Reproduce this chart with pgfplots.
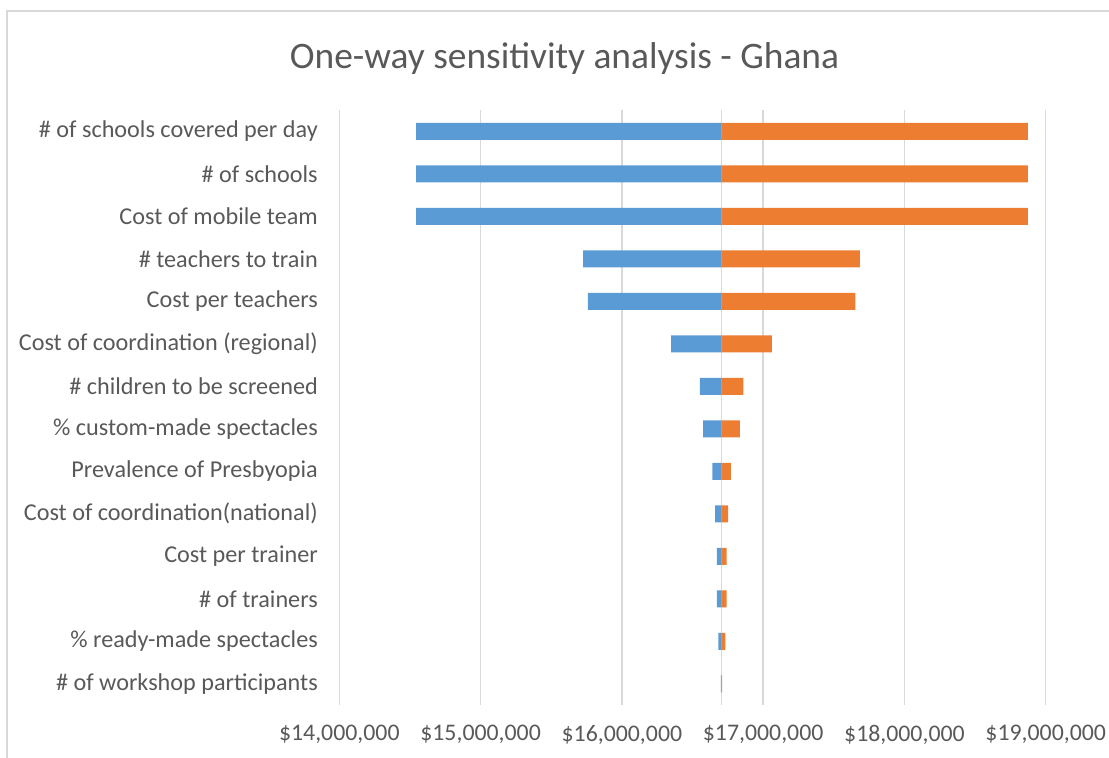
\documentclass[border=0pt]{standalone}
\usepackage{fontspec}
\setmainfont{Carlito}
\usepackage{pgfplots}
\pgfplotsset{compat=1.18}
\usepackage{pgfplotstable}

\definecolor{xlblue}{HTML}{5B9BD5}
\definecolor{xlorange}{HTML}{ED7D31}
\definecolor{xltext}{HTML}{595959}
\definecolor{xlgrid}{HTML}{D9D9D9}

% values in millions of dollars, rows top to bottom
\pgfplotstableread{
pos base   low    high
0   16.705 14.543 18.873
1   16.705 14.543 18.873
2   16.705 14.543 18.873
3   16.705 15.725 17.684
4   16.705 15.760 17.652
5   16.705 16.348 17.061
6   16.705 16.553 16.860
7   16.705 16.576 16.836
8   16.705 16.640 16.772
9   16.705 16.661 16.753
10  16.705 16.673 16.742
11  16.705 16.673 16.742
12  16.705 16.683 16.732
13  16.705 16.701 16.709
}\sens

\begin{document}
\begin{tikzpicture}
\begin{axis}[
    at={(339.3pt,-705pt)}, anchor=south west,
    width=706.4pt, height=595pt, scale only axis,
    xmin=14, xmax=19, ymin=-0.5, ymax=13.5, y dir=reverse,
    xbar stacked, bar width=17pt,
    xtick={14,15,16,17,18,19},
    xticklabels={{\$14,000,000},{\$15,000,000},{\$16,000,000},{\$17,000,000},{\$18,000,000},{\$19,000,000}},
    ytick={0,...,13},
    yticklabels={
        {\# of schools covered per day},
        {\# of schools},
        {Cost of mobile team},
        {\# teachers to train},
        {Cost per teachers},
        {Cost of coordination (regional)},
        {\# children to be screened},
        {\% custom-made spectacles},
        {Prevalence of Presbyopia},
        {Cost of coordination(national)},
        {Cost per trainer},
        {\# of trainers},
        {\% ready-made spectacles},
        {\# of workshop participants}},
    xmajorgrids,
    major grid style={xlgrid, line width=1.3pt},
    axis line style={draw=none},
    major tick length=0pt,
    tick label style={text=xltext},
    xticklabel style={font=\fontsize{23.8}{28}\selectfont, yshift=-17pt},
    yticklabel style={font=\fontsize{24.2}{29}\selectfont, xshift=-18pt},
]
\addplot[draw=none, fill=none, forget plot] table[x=low, y=pos] {\sens};
\addplot[draw=none, fill=xlblue] table[x expr=\thisrow{base}-\thisrow{low}, y=pos] {\sens};
\addplot[draw=none, fill=xlorange] table[x expr=\thisrow{high}-\thisrow{base}, y=pos] {\sens};
\draw[xlgrid, line width=1.3pt] (axis cs:16.705,-0.5) -- (axis cs:16.705,13.5);
\end{axis}
\node[anchor=base, font=\fontsize{37.4}{44}\selectfont, text=xltext] at (564.5pt,-68pt) {One-way sensitivity analysis - Ghana};
\draw[xlgrid, line width=1.5pt] (7pt,-770pt) -- (7pt,-11pt) -- (1120pt,-11pt);
\pgfresetboundingbox
\path[use as bounding box] (0pt,0pt) rectangle (1109pt,-758pt);
\end{tikzpicture}
\end{document}
